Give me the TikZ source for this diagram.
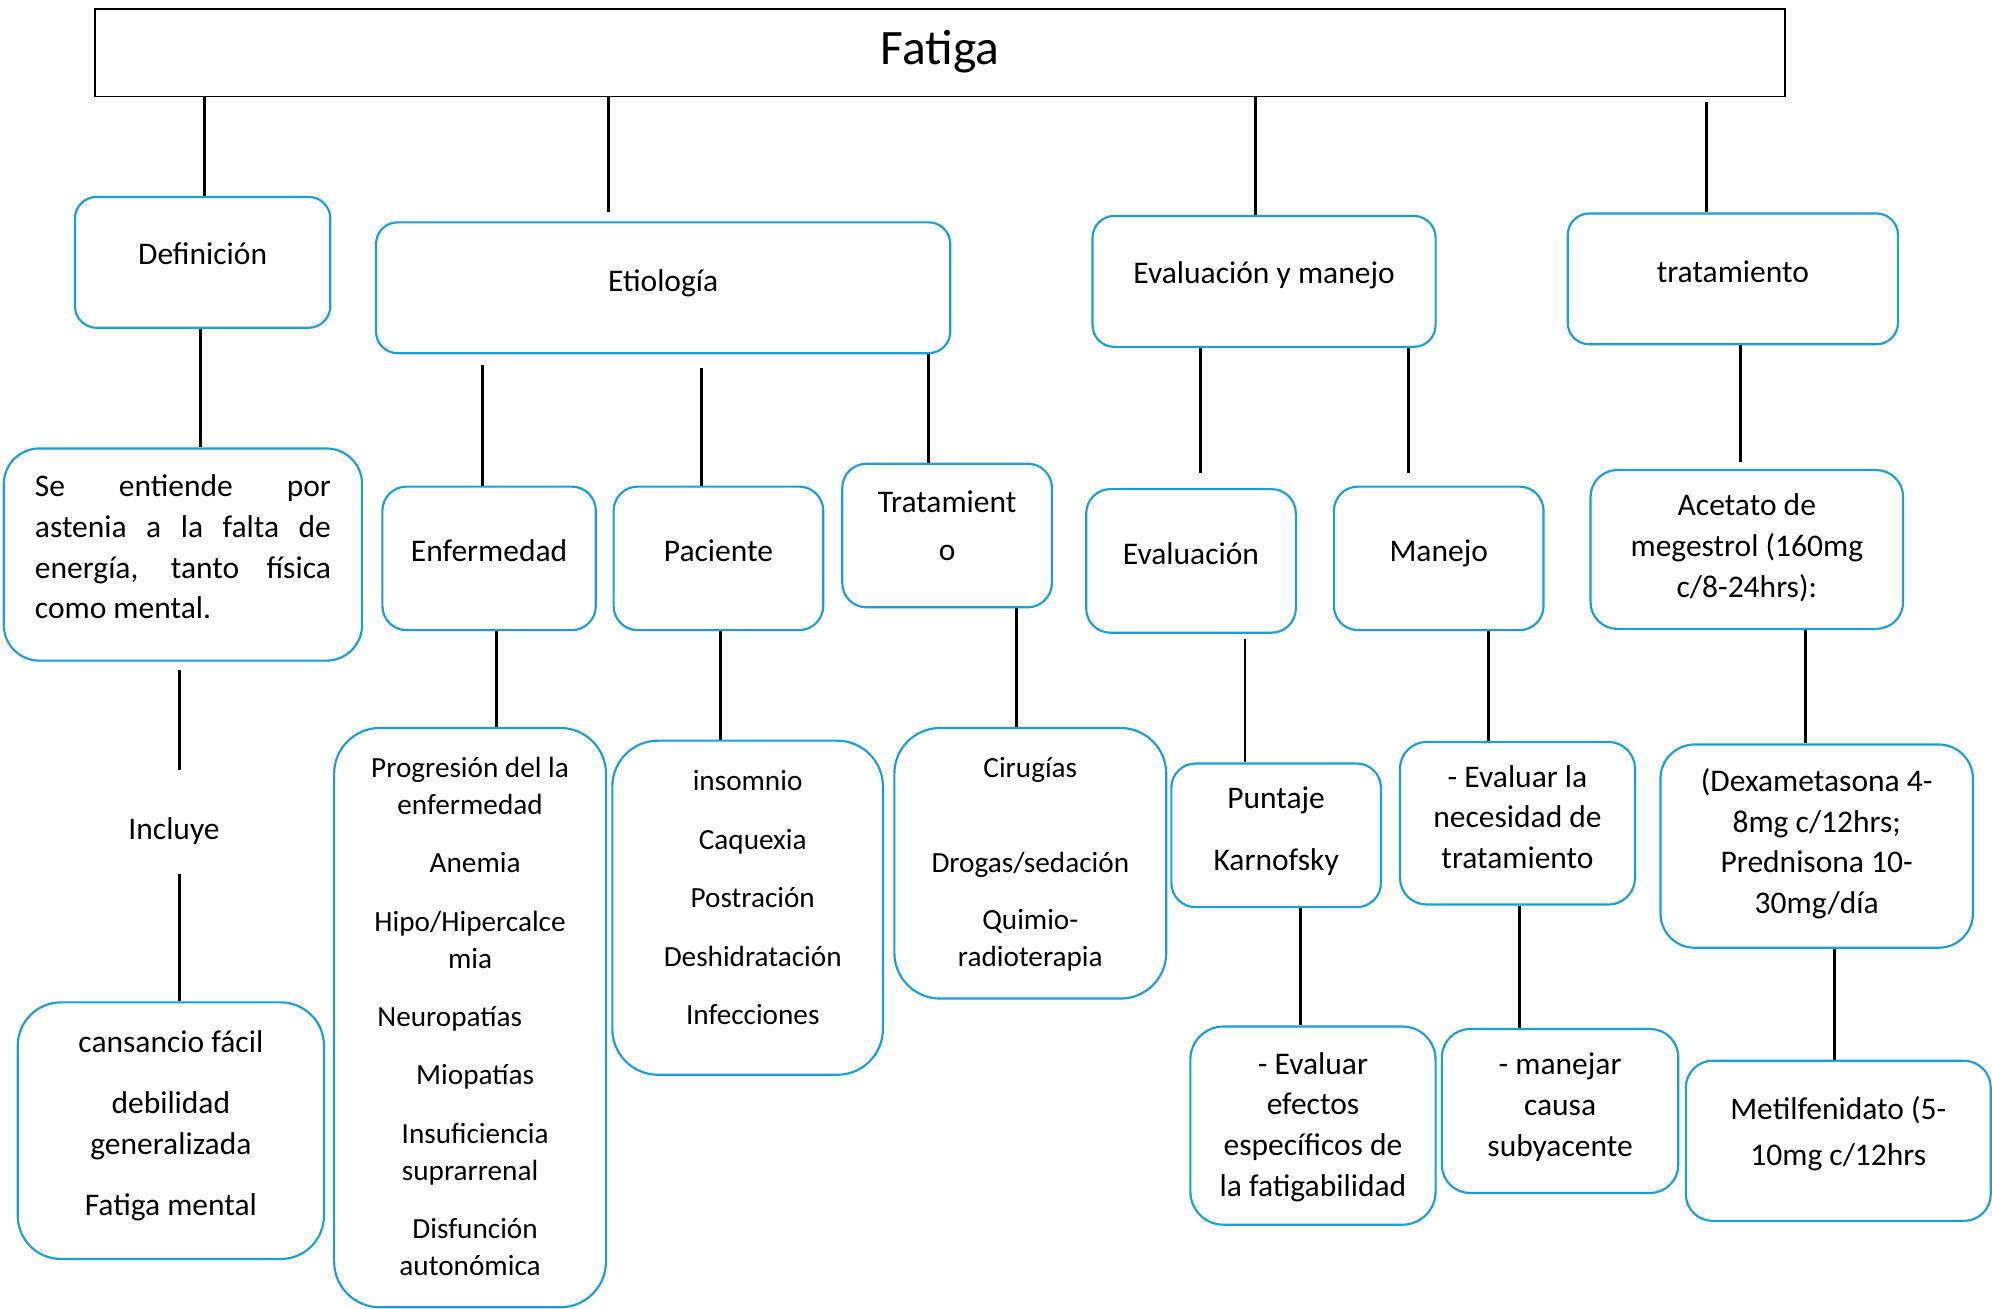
\documentclass[tikz,border=0pt]{standalone}
\usepackage{fontspec}
\setmainfont{Carlito}
\definecolor{mapblue}{RGB}{27,158,218}
\tikzset{
  caja/.style={draw=mapblue, line width=0.85pt, align=center, inner sep=0pt, text depth=6pt, font=\fontsize{12.4}{16}\selectfont},
  chica/.style={caja, font=\fontsize{11.5}{14.5}\selectfont},
  sz/.style n args={3}{minimum width=#1*0.5pt, minimum height=#2*0.5pt, rounded corners=#3},
  linea/.style={line width=1.15pt, black},
}
\begin{document}
\begin{tikzpicture}[x=0.5pt,y=-0.5pt]
\useasboundingbox (0,0) rectangle (1568,1030);

\node[draw, line width=0.7pt, minimum width=665pt, minimum height=34.5pt, inner sep=0pt, text depth=4pt, font=\fontsize{19.5}{24}\selectfont] (fat) at (740,41.5) {Fatiga};

\node[caja, text depth=7pt, sz={201}{103}{8.5pt}] (def) at (159.5,206.5) {Definición};
\node[caja, sz={452}{103}{8.5pt}] (eti) at (522,226.5) {Etiología};
\node[caja, text depth=7pt, sz={270}{103}{8.5pt}] (eym) at (995,221.5) {Evaluación y manejo};
\node[caja, sz={260}{103}{8.5pt}] (tra) at (1364,219.5) {tratamiento};

\node[caja, align=left, sz={282}{167}{14pt}] (ast) at (144,436.5) {\makebox[116.5pt][s]{Se entiende por}\\\makebox[116.5pt][s]{astenia a la falta de}\\\makebox[116.5pt][s]{energía, tanto física}\\como mental.};
\node[caja, sz={168}{113}{9.5pt}] (enf) at (385,439.5) {Enfermedad};
\node[caja, sz={165}{113}{9.5pt}] (pac) at (565.5,439.5) {Paciente};
\node[caja, text depth=8pt, sz={165}{113}{9.5pt}] (trt) at (745.5,421.5) {Tratamient\\[3pt]o};
\node[caja, sz={165}{113}{9.5pt}] (eva) at (937.5,441.5) {Evaluación};
\node[caja, sz={165}{113}{9.5pt}] (man) at (1132.5,439.5) {Manejo};
\node[caja, text depth=3pt, sz={246}{125}{10.5pt}] (ace) at (1375,432.5) {Acetato de\\megestrol (160mg\\c/8-24hrs):};

\node[font=\fontsize{12.4}{16}\selectfont, inner sep=0pt] (inc) at (137,654) {Incluye};

\node[caja, sz={241}{202}{17pt}] (can) at (134.5,890) {cansancio fácil\\[8pt]debilidad\\generalizada\\[8pt]Fatiga mental};
\node[chica, text depth=1pt, sz={214}{456}{18pt}] (pro) at (370,801) {Progresión del la\\enfermedad\\[8.5pt]\kern4pt Anemia\\[8.5pt]Hipo/Hipercalce\\mia\\[8.5pt]\hbox{Neuropatías\kern16pt}\\[8.5pt]\kern4pt Miopatías\\[8.5pt]\kern4pt Insuficiencia\\suprarrenal\\[8.5pt]\kern4pt Disfunción\\autonómica};
\node[chica, text depth=8pt, sz={213}{263}{18pt}] (ins) at (588.5,714.5) {insomnio\\[8.5pt]\kern4pt Caquexia\\[8.5pt]\kern4pt Postración\\[8.5pt]\kern4pt Deshidratación\\[8.5pt]\kern4pt Infecciones};
\node[chica, text depth=1pt, sz={214}{213}{18pt}] (cir) at (811,679.5) {Cirugías\\[23pt]Drogas/sedación\\[8pt]Quimio-\\radioterapia};
\node[caja, text depth=5pt, sz={165}{113}{9.5pt}] (pun) at (1004.5,657.5) {Puntaje\\[8.5pt]Karnofsky};
\node[caja, text depth=5pt, sz={185}{128}{10.5pt}] (nec) at (1194.5,648) {- Evaluar la\\necesidad de\\tratamiento};
\node[caja, text depth=4pt, sz={246}{160}{13.5pt}] (dex) at (1430,666) {(Dexametasona 4-\\8mg c/12hrs;\\Prednisona 10-\\30mg/día};

\node[caja, text depth=1pt, sz={193}{156}{13pt}] (efe) at (1033.5,886) {- Evaluar\\efectos\\específicos de\\la fatigabilidad};
\node[caja, text depth=5pt, sz={186}{129}{11pt}] (cau) at (1228,874.5) {- manejar\\causa\\subyacente};
\node[caja, text depth=8pt, sz={240}{126}{10.5pt}] (met) at (1447,898) {Metilfenidato (5-\\[2pt]10mg c/12hrs};

\coordinate (k1) at (161,0);
\coordinate (p2) at (479,167);
\coordinate (k3) at (988,0);
\coordinate (p4) at (1343,80);
\coordinate (k5) at (158,0);
\coordinate (p6) at (380,287);
\coordinate (p7) at (552,290);
\coordinate (k8) at (731,0);
\coordinate (p9) at (945,372);
\coordinate (p10) at (1109,372);
\coordinate (p11) at (1370,364);
\coordinate (p12a) at (141,527);
\coordinate (p12b) at (141,606);
\coordinate (p13) at (141,688);
\coordinate (k14) at (391,0);
\coordinate (k15) at (567,0);
\coordinate (k16) at (800,0);
\coordinate (p17) at (980,503);
\coordinate (k18) at (1172,0);
\coordinate (k19) at (1421,0);
\coordinate (k20) at (1024,0);
\coordinate (k21) at (1196,0);
\coordinate (k22) at (1444,0);

\draw[linea] (fat.south -| k1) -- (def.north -| k1);
\draw[linea] (fat.south -| p2) -- (p2);
\draw[linea] (fat.south -| k3) -- (eym.north -| k3);
\draw[linea] (p4) -- (tra.north -| p4);

\draw[linea] (def.south -| k5) -- (ast.north -| k5);
\draw[linea] (p6) -- (enf.north -| p6);
\draw[linea] (p7) -- (pac.north -| p7);
\draw[linea] (eti.south -| k8) -- (trt.north -| k8);
\draw[linea] (eym.south -| p9) -- (p9);
\draw[linea] (eym.south -| p10) -- (p10);
\draw[linea] (tra.south -| p11) -- (p11);

\draw[linea] (p12a) -- (p12b);
\draw[linea] (p13) -- (can.north -| p13);
\draw[linea] (enf.south -| k14) -- (pro.north -| k14);
\draw[linea] (pac.south -| k15) -- (ins.north -| k15);
\draw[linea] (trt.south -| k16) -- (cir.north -| k16);
\draw[linea] (p17) -- (pun.north -| p17);
\draw[linea] (man.south -| k18) -- (nec.north -| k18);
\draw[linea] (ace.south -| k19) -- (dex.north -| k19);

\draw[linea] (pun.south -| k20) -- (efe.north -| k20);
\draw[linea] (nec.south -| k21) -- (cau.north -| k21);
\draw[linea] (dex.south -| k22) -- (met.north -| k22);

\end{tikzpicture}
\end{document}
